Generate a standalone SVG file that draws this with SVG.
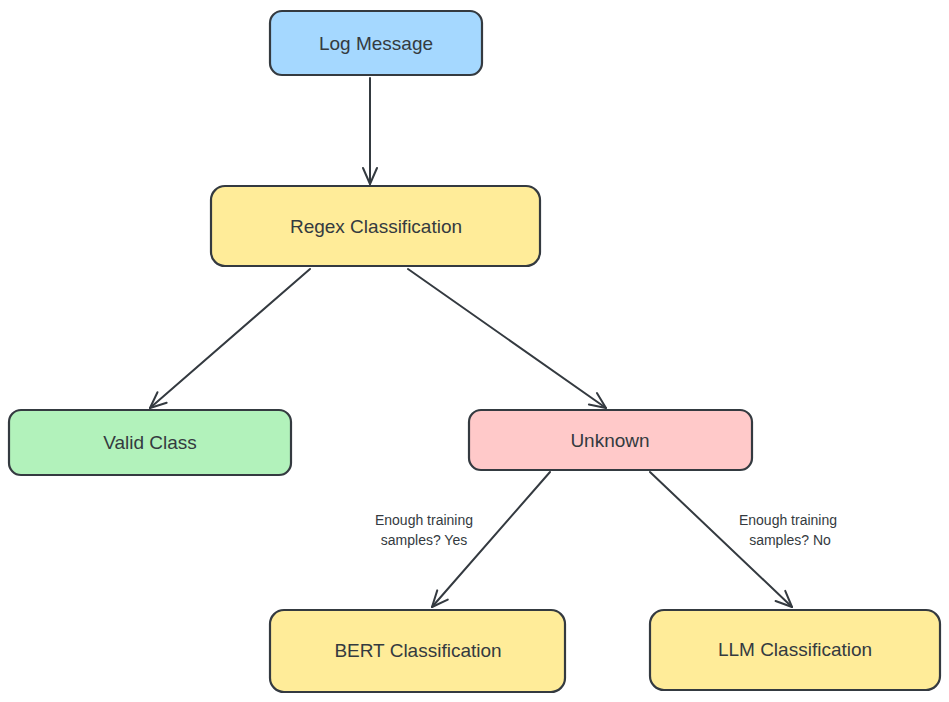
<svg xmlns="http://www.w3.org/2000/svg" width="949" height="702" viewBox="0 0 949 702">
<defs>
<style>
.box{stroke:#343a40;stroke-width:2.2;}
.lbl{font-family:"Liberation Sans",Arial,sans-serif;font-size:19px;fill:#343a40;text-anchor:middle;dominant-baseline:central;}
.edge{font-family:"Liberation Sans",Arial,sans-serif;font-size:14px;fill:#343a40;text-anchor:middle;}
.conn{stroke:#343a40;stroke-width:2;fill:none;stroke-linecap:round;}
</style>
<marker id="arr" viewBox="0 0 20 20" refX="18" refY="10" markerWidth="20" markerHeight="20" markerUnits="userSpaceOnUse" orient="auto">
<path d="M2,3 L18,10 L2,17" fill="none" stroke="#343a40" stroke-width="2" stroke-linecap="round" stroke-linejoin="round"/>
</marker>
</defs>
<rect width="949" height="702" fill="#ffffff"/>
<g id="connectors">
<path class="conn" d="M370,78 L370,184" marker-end="url(#arr)"/>
<path class="conn" d="M310,269 L150,408" marker-end="url(#arr)"/>
<path class="conn" d="M408,269 L606,408" marker-end="url(#arr)"/>
<path class="conn" d="M550,472 L432,607" marker-end="url(#arr)"/>
<path class="conn" d="M650,472 L792,607" marker-end="url(#arr)"/>
<text class="edge" x="424" y="525">Enough training</text>
<text class="edge" x="424" y="545">samples? Yes</text>
<text class="edge" x="788" y="525">Enough training</text>
<text class="edge" x="790" y="545">samples? No</text>
</g>
<g id="log-message">
<rect class="box" x="270" y="11" width="212" height="64" rx="12" fill="#a5d8ff"/>
<text class="lbl" x="376" y="43">Log Message</text>
</g>
<g id="regex-classification">
<rect class="box" x="211" y="186" width="329" height="80" rx="14" fill="#ffec99"/>
<text class="lbl" x="376" y="226">Regex Classification</text>
</g>
<g id="valid-class">
<rect class="box" x="9" y="410" width="282" height="65" rx="12" fill="#b2f2bb"/>
<text class="lbl" x="150" y="442">Valid Class</text>
</g>
<g id="unknown">
<rect class="box" x="469" y="410" width="283" height="60" rx="12" fill="#ffc9c9"/>
<text class="lbl" x="610" y="440">Unknown</text>
</g>
<g id="bert-classification">
<rect class="box" x="270" y="610" width="295" height="82" rx="14" fill="#ffec99"/>
<text class="lbl" x="418" y="650">BERT Classification</text>
</g>
<g id="llm-classification">
<rect class="box" x="650" y="610" width="290" height="80" rx="14" fill="#ffec99"/>
<text class="lbl" x="795" y="649">LLM Classification</text>
</g>
</svg>
